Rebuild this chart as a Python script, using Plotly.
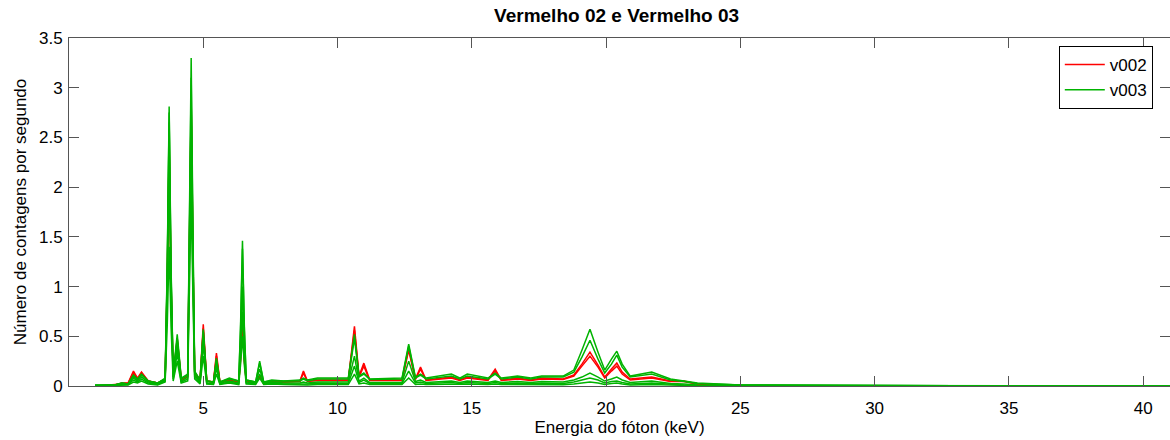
import plotly.graph_objects as go

# Energy grid (keV)
energia = [
    0.97, 1.7, 1.97, 2.2, 2.4, 2.55, 2.7, 2.95, 3.3, 3.58,
    3.66, 3.73, 3.80, 3.88, 4.03, 4.18, 4.42, 4.48, 4.55, 4.62,
    4.68, 4.88, 5.0, 5.13, 5.38, 5.49, 5.62, 5.97, 6.32, 6.39,
    6.46, 6.53, 6.6, 6.95, 7.1, 7.25, 7.55, 8.0, 8.6, 8.73,
    8.88, 9.25, 10.4, 10.63, 10.8, 10.98, 11.2, 12.4, 12.65, 12.9,
    13.09, 13.3, 14.24, 14.55, 14.83, 15.6, 15.87, 16.1, 16.7, 17.2,
    17.6, 18.4, 18.8, 19.1, 19.4, 19.7, 19.95, 20.2, 20.4, 20.6,
    20.9, 21.7, 22.4, 22.9, 23.4, 25.0, 28.0, 33.0, 41.0,
]

# v002 (red) spectra
v002_a = [
    0.0, 0.01, 0.03, 0.03, 0.15, 0.08, 0.14, 0.05, 0.03, 0.07,
    1.10, 2.45, 1.05, 0.10, 0.48, 0.07, 0.10, 1.30, 2.86, 1.25,
    0.14, 0.06, 0.62, 0.05, 0.04, 0.33, 0.04, 0.06, 0.04, 0.28,
    0.62, 0.26, 0.05, 0.03, 0.10, 0.03, 0.04, 0.04, 0.05, 0.15,
    0.05, 0.06, 0.06, 0.60, 0.10, 0.23, 0.06, 0.06, 0.38, 0.07,
    0.19, 0.06, 0.09, 0.06, 0.09, 0.06, 0.17, 0.06, 0.08, 0.06,
    0.08, 0.07, 0.11, 0.22, 0.34, 0.21, 0.09, 0.17, 0.23, 0.14,
    0.07, 0.09, 0.05, 0.05, 0.02, 0.005, 0.0, 0.0, 0.0,
]
v002_b = [
    0.0, 0.01, 0.02, 0.03, 0.13, 0.07, 0.13, 0.05, 0.03, 0.06,
    1.05, 2.40, 1.00, 0.09, 0.45, 0.06, 0.09, 1.25, 2.75, 1.20,
    0.13, 0.05, 0.58, 0.05, 0.04, 0.30, 0.04, 0.05, 0.04, 0.26,
    0.58, 0.25, 0.05, 0.03, 0.09, 0.03, 0.04, 0.04, 0.045, 0.13,
    0.045, 0.055, 0.055, 0.56, 0.09, 0.20, 0.055, 0.055, 0.36, 0.065,
    0.17, 0.055, 0.08, 0.055, 0.08, 0.055, 0.15, 0.055, 0.07, 0.055,
    0.07, 0.065, 0.10, 0.20, 0.30, 0.19, 0.08, 0.15, 0.20, 0.12,
    0.06, 0.08, 0.045, 0.045, 0.02, 0.005, 0.0, 0.0, 0.0,
]

# v003 (green) spectra
v003_a = [
    0.01, 0.01, 0.03, 0.02, 0.11, 0.07, 0.12, 0.05, 0.03, 0.08,
    1.25, 2.81, 1.20, 0.12, 0.52, 0.08, 0.12, 1.50, 3.30, 1.45,
    0.15, 0.06, 0.57, 0.05, 0.04, 0.28, 0.04, 0.08, 0.05, 0.62,
    1.46, 0.60, 0.06, 0.04, 0.25, 0.04, 0.06, 0.05, 0.06, 0.08,
    0.06, 0.08, 0.08, 0.52, 0.10, 0.13, 0.07, 0.08, 0.42, 0.09,
    0.12, 0.08, 0.12, 0.08, 0.12, 0.08, 0.13, 0.08, 0.10, 0.08,
    0.10, 0.10, 0.16, 0.36, 0.57, 0.34, 0.16, 0.27, 0.35, 0.22,
    0.10, 0.14, 0.07, 0.05, 0.03, 0.01, 0.005, 0.003, 0.0,
]
v003_b = [
    0.01, 0.01, 0.03, 0.02, 0.10, 0.06, 0.11, 0.05, 0.03, 0.07,
    1.20, 2.75, 1.15, 0.11, 0.48, 0.07, 0.11, 1.40, 3.10, 1.35,
    0.14, 0.06, 0.55, 0.05, 0.04, 0.26, 0.04, 0.07, 0.05, 0.58,
    1.38, 0.56, 0.06, 0.04, 0.23, 0.04, 0.05, 0.05, 0.05, 0.07,
    0.05, 0.07, 0.07, 0.48, 0.09, 0.12, 0.065, 0.07, 0.40, 0.08,
    0.11, 0.07, 0.10, 0.07, 0.10, 0.07, 0.12, 0.07, 0.09, 0.07,
    0.09, 0.09, 0.14, 0.29, 0.46, 0.27, 0.13, 0.22, 0.31, 0.19,
    0.09, 0.12, 0.06, 0.045, 0.025, 0.01, 0.005, 0.003, 0.0,
]
v003_c = [
    0.0, 0.01, 0.02, 0.02, 0.08, 0.05, 0.09, 0.04, 0.02, 0.06,
    1.15, 2.65, 1.10, 0.09, 0.40, 0.05, 0.09, 1.30, 2.85, 1.25,
    0.11, 0.04, 0.50, 0.03, 0.03, 0.22, 0.03, 0.05, 0.03, 0.42,
    1.00, 0.40, 0.04, 0.03, 0.17, 0.03, 0.04, 0.03, 0.03, 0.04,
    0.03, 0.04, 0.04, 0.30, 0.05, 0.08, 0.035, 0.035, 0.25, 0.045,
    0.06, 0.035, 0.05, 0.035, 0.05, 0.035, 0.05, 0.035, 0.045, 0.035,
    0.045, 0.04, 0.06, 0.09, 0.13, 0.09, 0.05, 0.07, 0.09, 0.06,
    0.035, 0.05, 0.025, 0.02, 0.01, 0.005, 0.003, 0.002, 0.0,
]
v003_d = [
    0.0, 0.005, 0.015, 0.015, 0.06, 0.04, 0.07, 0.03, 0.015, 0.05,
    0.95, 2.20, 0.90, 0.07, 0.33, 0.04, 0.07, 1.05, 2.31, 1.00,
    0.09, 0.03, 0.42, 0.025, 0.02, 0.18, 0.02, 0.04, 0.02, 0.32,
    0.75, 0.30, 0.03, 0.02, 0.12, 0.02, 0.03, 0.02, 0.02, 0.025,
    0.02, 0.03, 0.025, 0.20, 0.035, 0.06, 0.025, 0.025, 0.15, 0.03,
    0.04, 0.025, 0.035, 0.025, 0.035, 0.025, 0.035, 0.025, 0.03, 0.025,
    0.03, 0.025, 0.04, 0.06, 0.08, 0.06, 0.03, 0.045, 0.05, 0.035,
    0.02, 0.03, 0.015, 0.01, 0.005, 0.003, 0.002, 0.001, 0.0,
]
v003_e = [
    0.0, 0.005, 0.01, 0.01, 0.04, 0.03, 0.05, 0.02, 0.01, 0.04,
    0.62, 1.40, 0.60, 0.05, 0.25, 0.03, 0.05, 0.85, 1.90, 0.82,
    0.07, 0.02, 0.30, 0.02, 0.015, 0.12, 0.015, 0.03, 0.015, 0.22,
    0.50, 0.21, 0.02, 0.015, 0.08, 0.015, 0.02, 0.015, 0.01, 0.015,
    0.01, 0.015, 0.015, 0.12, 0.02, 0.03, 0.015, 0.015, 0.08, 0.015,
    0.02, 0.015, 0.02, 0.015, 0.02, 0.015, 0.02, 0.015, 0.015, 0.012,
    0.015, 0.012, 0.02, 0.03, 0.04, 0.03, 0.015, 0.025, 0.03, 0.02,
    0.01, 0.015, 0.008, 0.005, 0.003, 0.002, 0.001, 0.0, 0.0,
]

x_ticks = [5, 10, 15, 20, 25, 30, 35, 40]
y_ticks = [0, 0.5, 1, 1.5, 2, 2.5, 3, 3.5]
y_tick_labels = ["0", "0.5", "1", "1.5", "2", "2.5", "3", "3.5"]

RED = "#ff0000"
GREEN = "#00b300"
FONT = "Liberation Sans, Arial, sans-serif"

fig = go.Figure()
red_series = [v002_a, v002_b]
green_series = [v003_a, v003_b, v003_c, v003_d, v003_e]

for i, s in enumerate(red_series):
    assert len(s) == len(energia)
    fig.add_trace(go.Scatter(x=energia, y=s, mode="lines", name="v002",
                             line=dict(color=RED, width=1.5),
                             showlegend=(i == 0), legendrank=1))
for i, s in enumerate(green_series):
    assert len(s) == len(energia)
    fig.add_trace(go.Scatter(x=energia, y=s, mode="lines", name="v003",
                             line=dict(color=GREEN, width=1.5),
                             showlegend=(i == 0), legendrank=2))

axis_common = dict(showline=True, linecolor="#555555", linewidth=1, mirror="ticks",
                   ticks="inside", ticklen=10, tickcolor="#555555", showgrid=False,
                   zeroline=False, automargin=False,
                   tickfont=dict(family=FONT, size=17, color="#000"))

fig.update_layout(
    width=1170, height=440,
    margin=dict(l=69, r=0, t=38, b=54),
    paper_bgcolor="white", plot_bgcolor="white",
    title=dict(text="<b>Vermelho 02 e Vermelho 03</b>", x=0.527, xanchor="center",
               yref="container", y=0.966, yanchor="middle",
               font=dict(family=FONT, size=19, color="#000")),
    xaxis=dict(range=[0, 41], tickvals=x_ticks, ticktext=[str(v) for v in x_ticks],
               ticklabelstandoff=7,
               title=dict(text="Energia do fóton (keV)", standoff=0,
                          font=dict(family=FONT, size=17, color="#000")),
               **axis_common),
    yaxis=dict(range=[0, 3.5], tickvals=y_ticks, ticktext=y_tick_labels,
               ticklabelstandoff=2,
               title=dict(text="Número de contagens por segundo", standoff=8,
                          font=dict(family=FONT, size=17, color="#000")),
               **axis_common),
    legend=dict(x=0.899, y=0.977, xanchor="left", yanchor="top",
                bgcolor="white", bordercolor="#000", borderwidth=1,
                font=dict(family=FONT, size=17, color="#000"),
                itemwidth=40, entrywidth=62, tracegroupgap=0),
    showlegend=True,
)

# Remove the default page margin so the figure fills the 1170x440 window exactly.
fig.write_html("out.html", config={"displayModeBar": False},
               post_script="document.body.style.margin='0';")
